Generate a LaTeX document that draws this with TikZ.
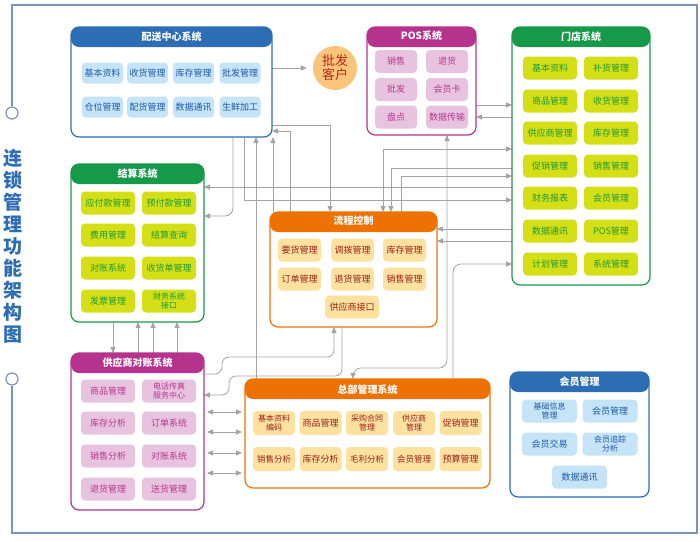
\documentclass[tikz,border=0pt]{standalone}
\usepackage{fontspec}
\setmainfont{Noto Sans CJK SC}
\usetikzlibrary{arrows.meta}
\pgfdeclarelayer{bg}
\pgfsetlayers{bg,main}
\definecolor{cblue}{HTML}{2C6DB4}
\definecolor{cblueL}{HTML}{C6E4F7}
\definecolor{cblueT}{HTML}{1E5AA8}
\definecolor{cmag}{HTML}{B6338D}
\definecolor{cmagL}{HTML}{E8C3DF}
\definecolor{cmagT}{HTML}{B3388F}
\definecolor{cgrn}{HTML}{17994A}
\definecolor{cgrnL}{HTML}{D5DF16}
\definecolor{cgrnT}{HTML}{1A9A3A}
\definecolor{corg}{HTML}{EE7203}
\definecolor{corgL}{HTML}{FDE29F}
\definecolor{corgT}{HTML}{9B1F1B}
\definecolor{cyel}{HTML}{F9C57A}
\definecolor{cred}{HTML}{B5261E}
\definecolor{cline}{HTML}{A3A3A3}
\definecolor{cframe}{HTML}{7F93B8}
\tikzset{
  sys/.style={draw=#1, line width=1.2pt, fill=white, rounded corners=8pt, inner sep=0pt, outer sep=0pt,
    path picture={\fill[#1] ([yshift=2pt]path picture bounding box.north west) rectangle ([yshift=-20pt]path picture bounding box.north east);}},
  hdr/.style={text=white, inner sep=0pt, font=\fontsize{10}{11}\selectfont\bfseries},
  itm/.style={rounded corners=4pt, inner sep=0pt, align=center, font=\fontsize{9}{10}\selectfont},
  two/.style={font=\fontsize{8}{9}\selectfont},
  bit/.style={itm, fill=cblueL, text=cblueT},
  mit/.style={itm, fill=cmagL, text=cmagT},
  git/.style={itm, fill=cgrnL, text=cgrnT},
  oit/.style={itm, fill=corgL, text=corgT},
  conn/.style={draw=cline, line width=0.8pt, >={Triangle[length=6pt,width=5pt]}},
  ring/.style={circle, draw=cframe, fill=white, line width=1.2pt, minimum size=12pt, inner sep=0pt}
}
\begin{document}
\begin{tikzpicture}[x=1pt,y=-1pt]
\useasboundingbox (0,0) rectangle (700,541);

% frame and title
\node[ring] (r1) at (12,113) {};
\node[ring] (r2) at (12,379) {};
\draw[cframe, line width=1.2pt] (r1.north) -- (12,5) -- (697,5) -- (697,533) -- (12,533) -- (r2.south);
\node[font=\fontsize{19}{22}\selectfont\bfseries, text=cblue, align=center, inner sep=0pt] (title) at (13,246) {连\\锁\\管\\理\\功\\能\\架\\构\\图};

% 配送中心系统
\node[sys=cblue, minimum width=201pt, minimum height=110pt] (ps) at (171.5,82) {};
\node[hdr] (psh) at (171.5,37) {配送中心系统};
\begin{scope}[every node/.style={bit, minimum width=41pt, minimum height=21pt}]
\node (ps1) at (102.5,73) {基本资料};
\node (ps2) at (147.5,73) {收货管理};
\node (ps3) at (193.5,73) {库存管理};
\node (ps4) at (240,73) {批发管理};
\node (ps5) at (102.5,107) {仓位管理};
\node (ps6) at (147.5,107) {配货管理};
\node (ps7) at (193.5,107) {数据通讯};
\node (ps8) at (240,107) {生鲜加工};
\end{scope}

% 批发客户
\node[circle, fill=cyel, minimum size=44pt, inner sep=0pt, text=cred, align=center, font=\fontsize{13}{14}\selectfont] (kh) at (335,68) {批发\\客户};

% POS系统
\node[sys=cmag, minimum width=109pt, minimum height=108pt] (pos) at (421.5,81) {};
\node[hdr] (posh) at (421.5,36) {POS系统};
\begin{scope}[every node/.style={mit, minimum width=42pt, minimum height=23pt}]
\node (pos1) at (396,61.5) {销售};
\node (pos2) at (447,61.5) {退货};
\node (pos3) at (396,89.5) {批发};
\node (pos4) at (447,89.5) {会员卡};
\node (pos5) at (396,117) {盘点};
\node (pos6) at (447,117) {数据传输};
\end{scope}

% 门店系统
\node[sys=cgrn, minimum width=138pt, minimum height=258pt] (md) at (581,156) {};
\node[hdr] (mdh) at (581,37) {门店系统};
\begin{scope}[every node/.style={git, minimum width=54pt, minimum height=23pt}]
\node (md1) at (550,68) {基本资料};
\node (md2) at (611,68) {补货管理};
\node (md3) at (550,101) {商品管理};
\node (md4) at (611,101) {收货管理};
\node (md5) at (550,133) {供应商管理};
\node (md6) at (611,133) {库存管理};
\node (md7) at (550,166) {促销管理};
\node (md8) at (611,166) {销售管理};
\node (md9) at (550,198) {财务报表};
\node (md10) at (611,198) {会员管理};
\node (md11) at (550,231) {数据通讯};
\node (md12) at (611,231) {POS管理};
\node (md13) at (550,264) {计划管理};
\node (md14) at (611,264) {系统管理};
\end{scope}

% 结算系统
\node[sys=cgrn, minimum width=133pt, minimum height=158pt] (js) at (137.5,243) {};
\node[hdr] (jsh) at (137.5,173.5) {结算系统};
\begin{scope}[every node/.style={git, minimum width=54pt, minimum height=23pt}]
\node (js1) at (108,203) {应付款管理};
\node (js2) at (169,203) {预付款管理};
\node (js3) at (108,235) {费用管理};
\node (js4) at (169,235) {结算查询};
\node (js5) at (108,268) {对账系统};
\node (js6) at (169,268) {收货单管理};
\node (js7) at (108,301) {发票管理};
\node[two] (js8) at (169,301) {财务系统\\接口};
\end{scope}

% 流程控制
\node[sys=corg, minimum width=167pt, minimum height=115pt] (lc) at (353.5,269.5) {};
\node[hdr] (lch) at (353.5,221) {流程控制};
\begin{scope}[every node/.style={oit, minimum width=43pt, minimum height=23pt}]
\node (lc1) at (299.5,250) {要货管理};
\node (lc2) at (352.5,250) {调拨管理};
\node (lc3) at (404.5,250) {库存管理};
\node (lc4) at (299.5,279) {订单管理};
\node (lc5) at (352.5,279) {退货管理};
\node (lc6) at (404.5,279) {销售管理};
\node[minimum width=54pt] (lc7) at (352,307) {供应商接口};
\end{scope}

% 供应商对账系统
\node[sys=cmag, minimum width=133pt, minimum height=157pt] (gy) at (137.5,431.5) {};
\node[hdr] (gyh) at (137.5,362.5) {供应商对账系统};
\begin{scope}[every node/.style={mit, minimum width=54pt, minimum height=23pt}]
\node (gy1) at (108,391) {商品管理};
\node[two] (gy2) at (169,391) {电话传真\\服务中心};
\node (gy3) at (108,423) {库存分析};
\node (gy4) at (169,423) {订单系统};
\node (gy5) at (108,456) {销售分析};
\node (gy6) at (169,456) {对账系统};
\node (gy7) at (108,489) {退货管理};
\node (gy8) at (169,489) {送货管理};
\end{scope}

% 总部管理系统
\node[sys=corg, minimum width=245pt, minimum height=109pt] (zb) at (367.5,433.5) {};
\node[hdr] (zbh) at (367.5,389.5) {总部管理系统};
\begin{scope}[every node/.style={oit, minimum width=42pt, minimum height=24pt}]
\node[two] (zb1) at (274,423) {基本资料\\编码};
\node (zb2) at (320.5,423) {商品管理};
\node[two] (zb3) at (367,423) {采购合同\\管理};
\node[two] (zb4) at (414,423) {供应商\\管理};
\node (zb5) at (460.5,423) {促销管理};
\node[font=\fontsize{8.5}{9}\selectfont] (zb6) at (274,459) {销售分析};
\node (zb7) at (320.5,459) {库存分析};
\node[font=\fontsize{8.5}{9}\selectfont] (zb8) at (367,459) {毛利分析};
\node[font=\fontsize{8.5}{9}\selectfont] (zb9) at (414,459) {会员管理};
\node (zb10) at (460.5,459) {预算管理};
\end{scope}

% 会员管理
\node[sys=cblue, minimum width=139pt, minimum height=125pt] (hy) at (579.5,434.5) {};
\node[hdr] (hyh) at (579.5,381.5) {会员管理};
\begin{scope}[every node/.style={bit, minimum width=55pt, minimum height=23pt}]
\node[two] (hy1) at (549.5,411) {基础信息\\管理};
\node (hy2) at (610,411) {会员管理};
\node (hy3) at (549.5,444) {会员交易};
\node[two] (hy4) at (610,444) {会员追踪\\分析};
\node (hy5) at (579.5,477) {数据通讯};
\end{scope}

% connectors
\begin{pgfonlayer}{bg}
\draw[conn,->,shorten >=6pt] (ps.east |- kh) -- (kh.west);
\draw[conn,->] (pos.east |- 0,105) -- (md.west |- 0,105);
\draw[conn,->] (md.west |- 0,117) -- (pos.east |- 0,117);
\draw[conn,->] (ps.east |- 0,125) -| (lc.north -| 330,0);
\draw[conn,->] (lc.north -| 290,0) |- (ps.east |- 0,131);
\draw[conn,->] (zb.north -| 256,0) -- (ps.south -| 256,0);
\draw[conn,->] (lc.north -| 273,0) -- (ps.south -| 273,0);
\draw[conn,->,rounded corners=8pt] (ps.south -| 233,0) |- (js.east |- 0,216);
\draw[conn,->] (ps.south -| 244,0) |- (md.west |- 0,200);
\draw[conn,->] (md.west |- 0,187) -- (js.east |- 0,187);
\draw[conn,<->] (lc.north -| 383,0) |- (md.west |- 0,149);
\draw[conn,->] (md.west |- 0,168) -| (lc.north -| 391,0);
\draw[conn,->] (lc.north -| 401,0) |- (md.west |- 0,176);
\draw[conn,->] (md.west |- 0,229) -- (lc.east |- 0,229);
\draw[conn,->] (md.west |- 0,241) -- (lc.east |- 0,241);
\draw[conn,->,rounded corners=8pt] (zb.north -| 453,0) |- (md.west |- 0,264);
\draw[conn,<->,rounded corners=8pt] (pos.south -| 447,0) -- (447,368) -| (zb.north -| 353,0);
\draw[conn,->,rounded corners=7pt] (gy.east |- 0,374) -- (222,374) -- (222,357) -- (334,357) -- (lc.south -| 334,0);
\draw[conn,->,rounded corners=7pt] (lc.south -| 342,0) -- (342,376) -- (229,376) -- (229,395) -- (gy.east |- 0,395);
\draw[conn,->] (js.south -| 113,0) -- (gy.north -| 113,0);
\draw[conn,->] (gy.north -| 138,0) -- (js.south -| 138,0);
\draw[conn,->] (gy.north -| 153,0) -- (js.south -| 153,0);
\draw[conn,->] (gy.north -| 177,0) -- (js.south -| 177,0);
\draw[conn,<->,shorten <=3pt,shorten >=3pt] (gy.east |- 0,412) -- (zb.west |- 0,412);
\draw[conn,<->,shorten <=3pt,shorten >=3pt] (gy.east |- 0,432) -- (zb.west |- 0,432);
\draw[conn,<->,shorten <=3pt,shorten >=3pt] (gy.east |- 0,453) -- (zb.west |- 0,453);
\draw[conn,<->,shorten <=3pt,shorten >=3pt] (gy.east |- 0,473) -- (zb.west |- 0,473);
\end{pgfonlayer}
\end{tikzpicture}
\end{document}
